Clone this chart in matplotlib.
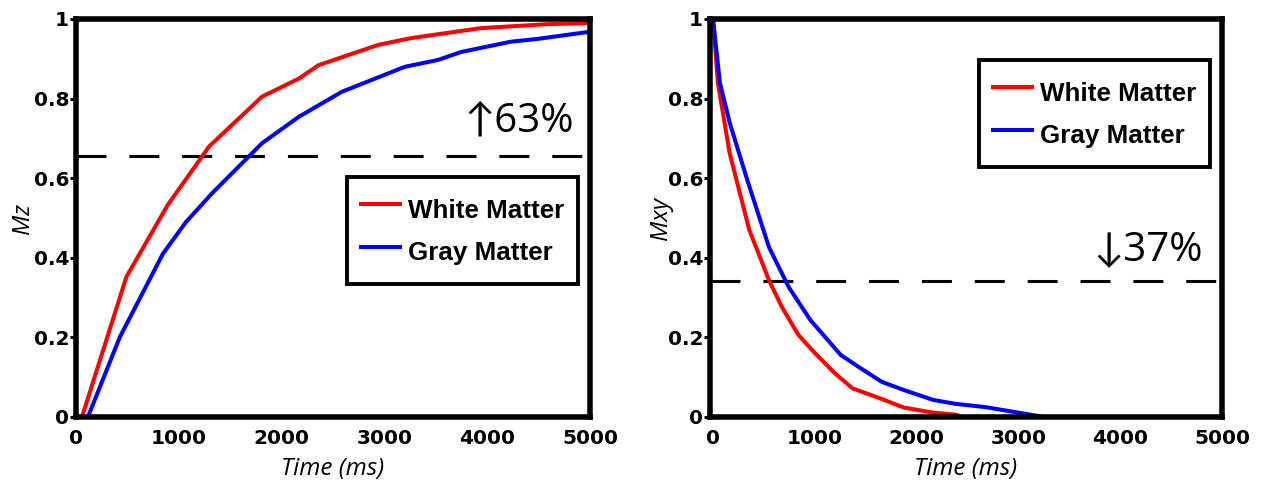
import matplotlib
matplotlib.use("Agg")
import matplotlib.pyplot as plt

# ---------------- data ----------------
t_wm_mz = [58, 490, 893, 1296, 1810, 2166, 2360, 2940, 3260, 3936, 4584, 5000]
mz_wm = [0.0, 0.352, 0.533, 0.68, 0.805, 0.85, 0.884, 0.935, 0.952, 0.977, 0.987, 0.99]

t_gm_mz = [116, 425, 845, 1070, 1327, 1810, 2166, 2585, 3200, 3520, 3745, 4230, 4490, 5000]
mz_gm = [0.0, 0.20, 0.41, 0.49, 0.563, 0.688, 0.754, 0.817, 0.88, 0.897, 0.917, 0.943, 0.95, 0.968]

t_wm_mxy = [0, 47, 163, 356, 549, 675, 839, 1003, 1196, 1370, 1640, 1872, 2161, 2383, 2450, 5000]
mxy_wm = [1.0, 0.84, 0.663, 0.47, 0.344, 0.277, 0.206, 0.16, 0.11, 0.072, 0.047, 0.024, 0.011, 0.006, 0.0, 0.0]

t_gm_mxy = [0, 67, 163, 327, 549, 742, 955, 1254, 1447, 1660, 1872, 2161, 2383, 2672, 3184, 3250, 5000]
mxy_gm = [1.0, 0.84, 0.74, 0.603, 0.427, 0.327, 0.244, 0.156, 0.123, 0.088, 0.068, 0.043, 0.033, 0.025, 0.003, 0.0, 0.0]

series_labels = ["White Matter", "Gray Matter"]
mz_threshold = 0.655
mxy_threshold = 0.342
mz_note = "\u219163%"
mxy_note = "\u219337%"
x_ticks = [0, 1000, 2000, 3000, 4000, 5000]
y_ticks = [0, 0.2, 0.4, 0.6, 0.8, 1]
y_ticklabels = ["0", "0.2", "0.4", "0.6", "0.8", "1"]
x_label = "Time (ms)"
y_labels = ["Mz", "Mxy"]

# ---------------- style ----------------
RED = "#ff0000"
BLUE = "#0000ff"
SPINE_W = 4.0
CURVE_W = 2.9

fig = plt.figure(figsize=(12.72, 4.83), dpi=100)
ax1 = fig.add_axes([76 / 1272, 1 - 417 / 483, 514 / 1272, 398 / 483])
ax2 = fig.add_axes([710 / 1272, 1 - 417 / 483, 512 / 1272, 398 / 483])

label_font = dict(family=["Open Sans", "DejaVu Sans"], style="italic", size=17.5)
note_font = dict(family=["Open Sans", "Lato", "Noto Sans", "DejaVu Sans"], size=29)
legend_font = dict(family="Liberation Sans", weight="bold", size=18.7)
legend_kw = dict(loc="upper right", prop=legend_font, fancybox=False, framealpha=1,
                 edgecolor="black", handlelength=1.5, handleheight=1.75,
                 handletextpad=0.3, borderpad=0.55, labelspacing=0.25, borderaxespad=0)


def style_axes(ax, xlim, ylabel, ylabel_x):
    ax.set_xlim(*xlim)
    ax.set_ylim(0, 1)
    ax.set_xticks(x_ticks)
    ax.set_xticklabels([str(v) for v in x_ticks])
    ax.set_yticks(y_ticks)
    ax.set_yticklabels(y_ticklabels)
    for lab in ax.get_xticklabels() + ax.get_yticklabels():
        lab.set_fontfamily("DejaVu Sans")
        lab.set_fontweight("bold")
        lab.set_fontsize(14.5)
    ax.tick_params(axis="x", length=0, pad=9)
    ax.tick_params(axis="y", direction="out", length=4, width=2.2, pad=1)
    for sp in ax.spines.values():
        sp.set_linewidth(SPINE_W)
        sp.set_color("black")
    ax.set_xlabel(x_label, **label_font)
    ax.xaxis.label.set_verticalalignment("center")
    ax.xaxis.set_label_coords(0.5, -0.13)
    ax.set_ylabel(ylabel, **label_font)
    ax.yaxis.label.set_verticalalignment("center")
    ax.yaxis.set_label_coords(ylabel_x, 0.5)


# Left panel: longitudinal recovery
ax1.plot(t_wm_mz, mz_wm, color=RED, lw=CURVE_W, label=series_labels[0])
ax1.plot(t_gm_mz, mz_gm, color=BLUE, lw=CURVE_W, label=series_labels[1])
ax1.axhline(mz_threshold, color="black", lw=2.2, linestyle=(0, (9.8, 7.5)), zorder=1.5)
style_axes(ax1, (0, 4971), y_labels[0], -0.104)
ax1.text(4845, 0.714, mz_note, ha="right", va="baseline", **note_font)
leg1 = ax1.legend(bbox_to_anchor=(0.977, 0.603), **legend_kw)
leg1.get_frame().set_linewidth(2.8)

# Right panel: transverse decay
ax2.plot(t_wm_mxy, mxy_wm, color=RED, lw=CURVE_W, label=series_labels[0])
ax2.plot(t_gm_mxy, mxy_gm, color=BLUE, lw=CURVE_W, label=series_labels[1])
ax2.axhline(mxy_threshold, color="black", lw=2.2, linestyle=(0, (9.8, 7.5)), zorder=1.5)
style_axes(ax2, (-30, 4912), y_labels[1], -0.095)
ax2.text(4815, 0.394, mxy_note, ha="right", va="baseline", **note_font)
leg2 = ax2.legend(bbox_to_anchor=(0.977, 0.897), **legend_kw)
leg2.get_frame().set_linewidth(2.8)

fig.savefig("out.png", dpi=100)
